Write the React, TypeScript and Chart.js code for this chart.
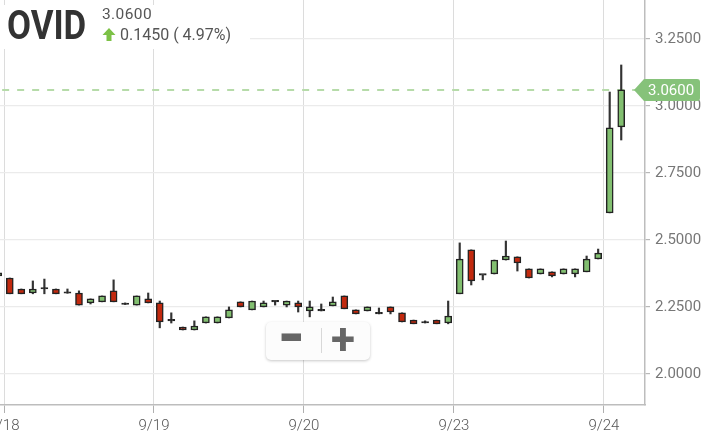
import React, { useEffect, useRef } from 'react';
import { Chart, registerables } from 'chart.js';

Chart.register(...registerables);

// ---- data ----
const SYMBOL = 'OVID';
const LAST_PRICE = 3.06;
const CHANGE = 0.145;
const CHANGE_PCT = 4.97;

const DAY_LABELS = ['9/18', '9/19', '9/20', '9/23', '9/24'];
const DAY_FIRST_BAR = [0, 13, 26, 39, 52];
const FIRST_BAR_INDEX = -1; // last 30-min bar of 9/17 is partly visible

// 30-minute bars; rows: 9/17 (last bar), 9/18, 9/19, 9/20, 9/23, 9/24
const OPEN = [
  2.366,
  2.358, 2.317, 2.302, 2.317, 2.317, 2.301, 2.302, 2.265, 2.269, 2.310, 2.259, 2.257, 2.280,
  2.265, 2.198, 2.175, 2.164, 2.190, 2.190, 2.209, 2.269, 2.239, 2.250, 2.269, 2.257, 2.265,
  2.235, 2.235, 2.254, 2.291, 2.239, 2.235, 2.224, 2.250, 2.228, 2.201, 2.190, 2.201, 2.190,
  2.299, 2.463, 2.369, 2.373, 2.425, 2.437, 2.392, 2.373, 2.381, 2.373, 2.373, 2.381, 2.429,
  2.601, 2.922,
];
const HIGH = [
  2.377,
  2.358, 2.317, 2.347, 2.354, 2.317, 2.317, 2.310, 2.280, 2.291, 2.351, 2.265, 2.291, 2.302,
  2.272, 2.228, 2.175, 2.198, 2.213, 2.213, 2.250, 2.269, 2.272, 2.272, 2.272, 2.272, 2.272,
  2.272, 2.261, 2.287, 2.291, 2.239, 2.250, 2.246, 2.250, 2.228, 2.201, 2.198, 2.201, 2.272,
  2.489, 2.463, 2.369, 2.425, 2.496, 2.437, 2.392, 2.392, 2.381, 2.392, 2.392, 2.440, 2.466,
  3.052, 3.153,
];
const LOW = [
  2.366,
  2.299, 2.299, 2.299, 2.299, 2.299, 2.301, 2.257, 2.261, 2.269, 2.269, 2.259, 2.257, 2.265,
  2.172, 2.190, 2.164, 2.164, 2.190, 2.190, 2.209, 2.250, 2.239, 2.250, 2.257, 2.250, 2.231,
  2.213, 2.235, 2.254, 2.243, 2.224, 2.235, 2.224, 2.224, 2.194, 2.187, 2.190, 2.187, 2.187,
  2.299, 2.332, 2.351, 2.373, 2.425, 2.384, 2.358, 2.373, 2.362, 2.373, 2.362, 2.381, 2.429,
  2.601, 2.873,
];
const CLOSE = [
  2.377,
  2.299, 2.299, 2.317, 2.317, 2.299, 2.301, 2.257, 2.280, 2.291, 2.269, 2.259, 2.291, 2.265,
  2.194, 2.198, 2.164, 2.179, 2.213, 2.213, 2.239, 2.250, 2.272, 2.265, 2.269, 2.272, 2.250,
  2.250, 2.235, 2.269, 2.243, 2.224, 2.250, 2.224, 2.231, 2.194, 2.187, 2.190, 2.187, 2.216,
  2.429, 2.347, 2.369, 2.425, 2.440, 2.414, 2.358, 2.392, 2.366, 2.392, 2.392, 2.429, 2.451,
  2.918, 3.060,
];

const Y_TICKS = [2.0, 2.25, 2.5, 2.75, 3.0, 3.25];

const GREEN = '#82bf70';
const RED = '#c2290e';
const DARK = '#222222';
const TAG_GREEN = '#86c27a';

const priceTag = {
  id: 'priceTag',
  afterDraw(chart: any) {
    const { ctx, chartArea, scales } = chart;
    const y = scales.y.getPixelForValue(LAST_PRICE);
    const tip = chartArea.right - 11;
    const slantEnd = chartArea.right - 1;
    const right = chart.width - 4;
    const h = 11;
    const r = 3;
    ctx.save();
    ctx.fillStyle = TAG_GREEN;
    ctx.beginPath();
    ctx.moveTo(tip, y);
    ctx.lineTo(slantEnd, y - h);
    ctx.lineTo(right - r, y - h);
    ctx.quadraticCurveTo(right, y - h, right, y - h + r);
    ctx.lineTo(right, y + h - r);
    ctx.quadraticCurveTo(right, y + h, right - r, y + h);
    ctx.lineTo(slantEnd, y + h);
    ctx.closePath();
    ctx.fill();
    ctx.fillStyle = '#ffffff';
    ctx.font = '15px Roboto';
    ctx.textBaseline = 'middle';
    ctx.textAlign = 'left';
    ctx.fillText(LAST_PRICE.toFixed(4), chartArea.right + 3, y + 1);
    ctx.restore();
  },
};

function CandleChart() {
  const ref = useRef<HTMLCanvasElement | null>(null);
  useEffect(() => {
    if (!ref.current) return;
    const idx = CLOSE.map((_, i) => FIRST_BAR_INDEX + i);
    const bodies = idx.map((x, i) => ({ x, y: [OPEN[i], CLOSE[i]] }));
    const wicks = idx.map((x, i) => ({ x, y: [LOW[i], HIGH[i]] }));
    const colorFor = (i: number) =>
      CLOSE[i] > OPEN[i] ? GREEN : CLOSE[i] < OPEN[i] ? RED : DARK;
    const xMin = FIRST_BAR_INDEX + 0.153;
    const xMax = DAY_FIRST_BAR[4] + 3.06;

    const chart = new Chart(ref.current, {
      type: 'bar',
      data: {
        datasets: [
          {
            type: 'line',
            data: [
              { x: xMin + 0.1, y: LAST_PRICE },
              { x: xMax, y: LAST_PRICE },
            ],
            borderColor: '#b6dba9',
            borderWidth: 2,
            borderDash: [7, 8],
            borderDashOffset: -1,
            pointRadius: 0,
            order: 3,
          } as any,
          {
            data: wicks as any,
            backgroundColor: '#333333',
            borderWidth: 0,
            grouped: false,
            barPercentage: 1,
            categoryPercentage: 1,
            maxBarThickness: 1.5,
            order: 2,
          } as any,
          {
            data: bodies as any,
            backgroundColor: (c: any) => colorFor(c.dataIndex),
            borderColor: DARK,
            borderWidth: 1.5,
            borderSkipped: false,
            grouped: false,
            barPercentage: 1,
            categoryPercentage: 1,
            maxBarThickness: 7,
            minBarLength: 1.5,
            order: 1,
          } as any,
        ],
      },
      options: {
        responsive: false,
        animation: false,
        maintainAspectRatio: false,
        layout: { padding: 0 },
        plugins: { legend: { display: false }, tooltip: { enabled: false } },
        scales: {
          x: {
            type: 'linear',
            min: xMin,
            max: xMax,
            offset: false,
            bounds: 'data',
            grid: {
              offset: false,
              color: '#dcdcdc',
              tickColor: '#b0b0b0',
              tickLength: 8,
              lineWidth: 1,
            },
            border: { color: '#bdbdbd', width: 1.5 },
            ticks: {
              autoSkip: false,
              maxRotation: 0,
              padding: 4,
              color: '#555',
              font: { family: 'Roboto', size: 15, weight: '300' as any },
              callback: (v: any) => {
                const k = DAY_FIRST_BAR.findIndex((d) => Math.abs(d - 0.5 - v) < 1e-6);
                return k >= 0 ? DAY_LABELS[k] : '';
              },
            },
            afterBuildTicks: (s: any) => {
              s.ticks = DAY_FIRST_BAR.map((d) => ({ value: d - 0.5 }));
            },
            afterFit: (s: any) => {
              s.height = 33;
              s.paddingLeft = 0;
              s.paddingRight = 0;
            },
          },
          y: {
            type: 'linear',
            position: 'right',
            min: 1.884,
            max: 3.3955,
            bounds: 'data',
            grid: {
              color: '#ebebeb',
              tickColor: '#b8b8b8',
              tickLength: 5,
              lineWidth: 1.2,
            },
            border: { color: '#bdbdbd', width: 1.5 },
            ticks: {
              padding: 5,
              color: '#777',
              font: { family: 'Roboto', size: 15 },
              callback: (v: any) => Number(v).toFixed(4),
            },
            afterBuildTicks: (s: any) => {
              s.ticks = Y_TICKS.map((value) => ({ value }));
            },
            afterFit: (s: any) => {
              s.width = 59;
              s.paddingTop = 0;
              s.paddingBottom = 0;
            },
          },
        },
      },
      plugins: [priceTag],
    });
    return () => chart.destroy();
  }, []);
  return <canvas ref={ref} width={704} height={438} style={{ display: 'block' }} />;
}

const iconStyle = (left: number): React.CSSProperties => ({
  position: 'absolute',
  left,
  top: 0,
  width: 40,
  height: 38,
  lineHeight: '36px',
  textAlign: 'center',
  fontSize: 40,
  fontWeight: 700,
  color: '#666',
});

export default function App() {
  return (
    <div
      style={{
        position: 'fixed',
        left: 0,
        top: 0,
        width: 704,
        height: 438,
        background: '#fff',
        overflow: 'hidden',
        fontFamily: 'Roboto, sans-serif',
      }}
    >
      <CandleChart />
      <div
        style={{
          position: 'absolute',
          left: 0,
          top: 5,
          width: 250,
          height: 44,
          background: '#fff',
        }}
      />
      <div
        style={{
          position: 'absolute',
          left: 7,
          top: 4.5,
          fontSize: 41,
          fontWeight: 700,
          lineHeight: 1,
          color: '#333',
          transform: 'scaleX(0.85)',
          transformOrigin: 'left top',
          whiteSpace: 'nowrap',
        }}
      >
        {SYMBOL}
      </div>
      <div
        style={{
          position: 'absolute',
          left: 102,
          top: 7,
          fontSize: 15.5,
          lineHeight: 1,
          color: '#555',
          letterSpacing: 0.4,
          whiteSpace: 'nowrap',
        }}
      >
        {LAST_PRICE.toFixed(4)}
      </div>
      <svg
        style={{ position: 'absolute', left: 102, top: 28 }}
        width={14}
        height={14}
        viewBox="0 0 14 14"
      >
        <polygon points="7,0 13.5,7 9.5,7 9.5,13 4.5,13 4.5,7 0.5,7" fill="#7cc146" />
      </svg>
      <div
        style={{
          position: 'absolute',
          left: 120,
          top: 26.5,
          fontSize: 16,
          lineHeight: 1,
          color: '#555',
          whiteSpace: 'nowrap',
        }}
      >
        {CHANGE.toFixed(4) + ' ( ' + CHANGE_PCT.toFixed(2) + '%)'}
      </div>
      <div
        style={{
          position: 'absolute',
          left: 266,
          top: 322,
          width: 104,
          height: 38,
          borderRadius: 5,
          background: '#fcfcfc',
          boxShadow: '0 1px 3px rgba(0,0,0,0.22)',
        }}
      >
        <div style={{ ...iconStyle(5), transform: 'scale(1.15, 1.7)' }}>−</div>
        <div
          style={{
            position: 'absolute',
            left: 55,
            top: 6,
            width: 1,
            height: 25,
            background: '#d8d8d8',
          }}
        />
        <div style={{ ...iconStyle(57), transform: 'scale(1.1, 1.1)' }}>+</div>
      </div>
    </div>
  );
}
